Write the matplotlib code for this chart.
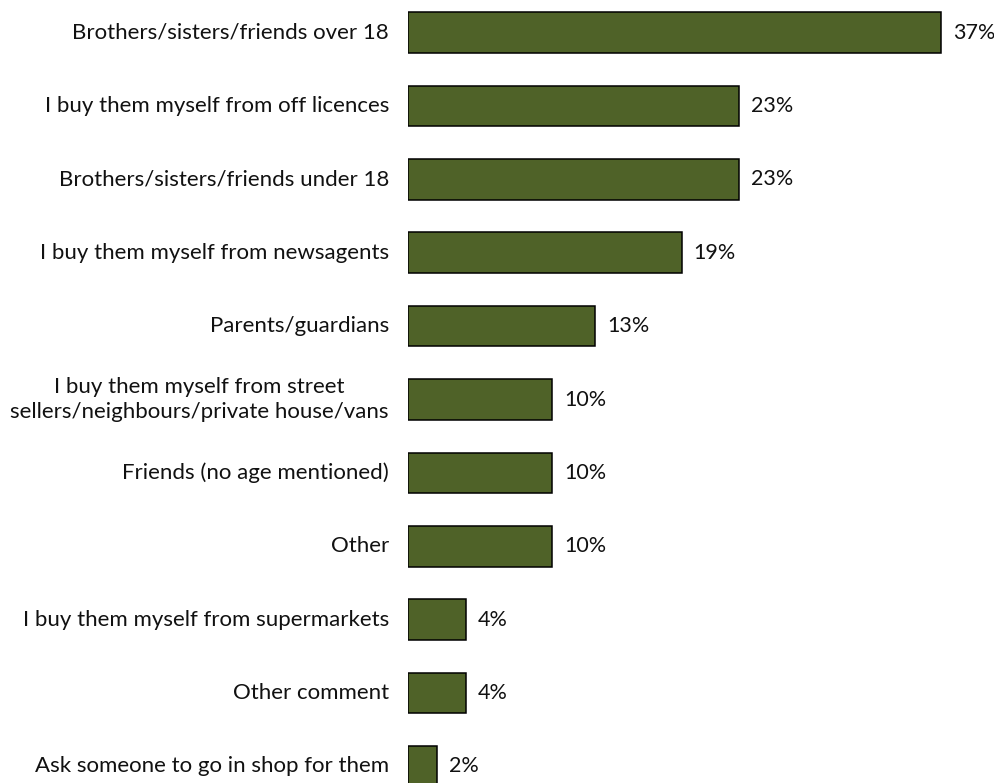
import matplotlib
matplotlib.use("Agg")
import matplotlib.pyplot as plt

# Where young people get their alcohol (share of respondents)
sources = [
    "Brothers/sisters/friends over 18",
    "I buy them myself from off licences",
    "Brothers/sisters/friends under 18",
    "I buy them myself from newsagents",
    "Parents/guardians",
    "I buy them myself from street\nsellers/neighbours/private house/vans",
    "Friends (no age mentioned)",
    "Other",
    "I buy them myself from supermarkets",
    "Other comment",
    "Ask someone to go in shop for them",
]
percent = [37, 23, 23, 19, 13, 10, 10, 10, 4, 4, 2]

plt.rcParams['font.family'] = ['Lato', 'DejaVu Sans']

W, H = 995, 783
fig = plt.figure(figsize=(W / 100, H / 100), dpi=100)
x0 = 408 / W
ax = fig.add_axes([x0, 0, 1 - x0, 1])

ypos = list(range(len(sources)))
ax.barh(ypos, percent, height=0.555, color='#4F6228', edgecolor='black', linewidth=1.1)

# 37% bar ends at pixel 941
ax.set_xlim(0, 37 * (W - 408) / (941 - 408))
ax.set_ylim(10.225, -0.443)
ax.axis('off')

px = ax.get_xlim()[1] / (W - 408)
for y, v, name in zip(ypos, percent, sources):
    ax.text(v + 12 * px, y, f"{v:.0f}%", va='center', ha='left', fontsize=15.5,
            color='#111111', clip_on=False)
    ax.text(-19 * px, y, name, va='center', ha='right', multialignment='center',
            fontsize=16, color='#111111', clip_on=False, linespacing=1.35)

fig.savefig("out.png", dpi=100)
